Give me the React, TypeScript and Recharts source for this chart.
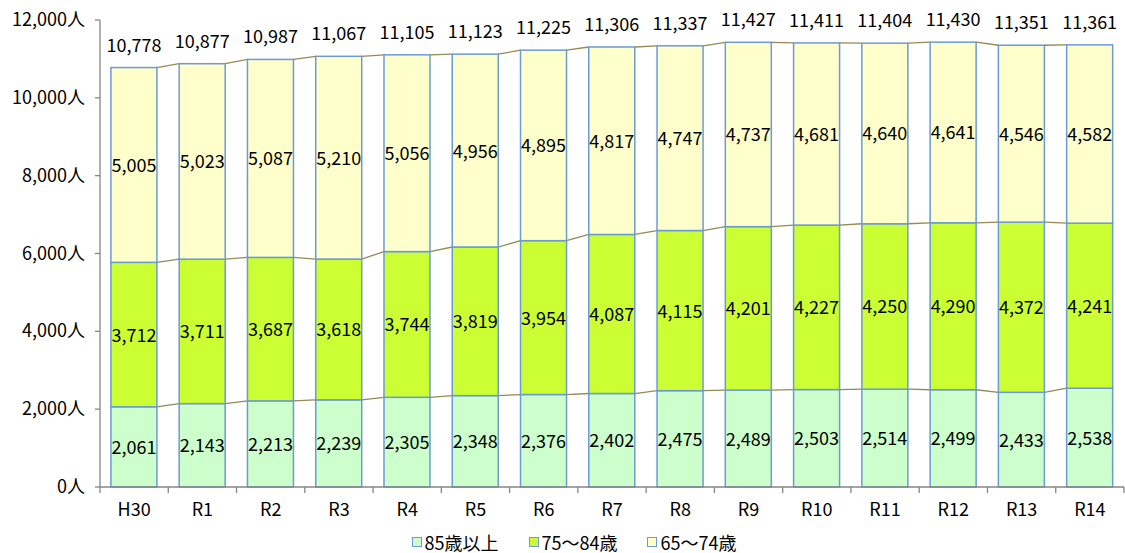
import React from 'react';
import { BarChart, Bar, XAxis, YAxis, Legend, LabelList } from 'recharts';

const categories = ['H30', 'R1', 'R2', 'R3', 'R4', 'R5', 'R6', 'R7', 'R8', 'R9', 'R10', 'R11', 'R12', 'R13', 'R14'];
const age85plus = [2061, 2143, 2213, 2239, 2305, 2348, 2376, 2402, 2475, 2489, 2503, 2514, 2499, 2433, 2538];
const age75to84 = [3712, 3711, 3687, 3618, 3744, 3819, 3954, 4087, 4115, 4201, 4227, 4250, 4290, 4372, 4241];
const age65to74 = [5005, 5023, 5087, 5210, 5056, 4956, 4895, 4817, 4747, 4737, 4681, 4640, 4641, 4546, 4582];
const totals = [10778, 10877, 10987, 11067, 11105, 11123, 11225, 11306, 11337, 11427, 11411, 11404, 11430, 11351, 11361];
const yTicks = [0, 2000, 4000, 6000, 8000, 10000, 12000];

const seriesNames = ['85歳以上', '75～84歳', '65～74歳'];
const seriesKeys = ['a85', 'a75', 'a65'];
const seriesValues = [age85plus, age75to84, age65to74];
const colors = ['#ccffcc', '#ccff33', '#ffffcc'];

const data = categories.map((c, i) => ({
  name: c,
  a85: age85plus[i],
  a75: age75to84[i],
  a65: age65to74[i],
  total: totals[i],
}));

const W = 1125;
const H = 553;
const M = { top: 20, right: 1, left: 10, bottom: 0 };
const YW = 90;
const PLOT_W = W - M.left - M.right - YW;
const BAND = PLOT_W / categories.length;
const FONT = '"Noto Sans CJK JP", "Noto Sans", sans-serif';
const STROKE = '#6c9bd4';
const LINE = '#948a54';

const cumulative = (k: number, i: number) => {
  let s = 0;
  for (let j = 0; j <= k; j++) s += seriesValues[j][i];
  return s;
};

const makeShape = (k: number) => (props: any) => {
  const { x, y, width, height, index, fill } = props;
  const value = seriesValues[k][index];
  const px = value ? height / value : 0;
  let line = null;
  if (index < categories.length - 1) {
    const yNext = y + (cumulative(k, index) - cumulative(k, index + 1)) * px;
    line = (
      <line x1={x + width} y1={y} x2={x + BAND} y2={yNext} stroke={LINE} strokeWidth={1.3} />
    );
  }
  return (
    <g>
      <rect x={x} y={y} width={width} height={height} fill={fill} stroke={STROKE} strokeWidth={1.5} />
      {line}
    </g>
  );
};

const fmt = (v: number) => v.toLocaleString('en-US');

const XTick = (props: any) => {
  const { x, y, payload, index } = props;
  const axisY = y - 10;
  return (
    <g>
      <line x1={x - BAND / 2} y1={axisY} x2={x - BAND / 2} y2={axisY + 6} stroke="#868686" strokeWidth={1.3} />
      {index === categories.length - 1 && (
        <line x1={x + BAND / 2} y1={axisY} x2={x + BAND / 2} y2={axisY + 6} stroke="#868686" strokeWidth={1.3} />
      )}
      <text x={x} y={axisY + 29} textAnchor="middle" fontSize={18} fill="#000" fontFamily={FONT}>
        {payload.value}
      </text>
    </g>
  );
};

const YTick = (props: any) => {
  const { x, y, payload } = props;
  return (
    <text x={x} y={y + 6} textAnchor="end" fontSize={18} fill="#000" fontFamily={FONT}>
      {fmt(payload.value) + '人'}
    </text>
  );
};

const TotalLabel = (props: any) => {
  const { x, y, width, index } = props;
  return (
    <text x={x + width / 2} y={y - 16} textAnchor="middle" fontSize={18} fill="#000" fontFamily={FONT}>
      {fmt(totals[index])}
    </text>
  );
};

const CenterLabel = (k: number) => (props: any) => {
  const { x, y, width, height, index } = props;
  return (
    <text x={x + width / 2} y={y + height / 2 + 7} textAnchor="middle" fontSize={18} fill="#000" fontFamily={FONT}>
      {fmt(seriesValues[k][index])}
    </text>
  );
};

const LegendContent = () => (
  <div style={{ display: 'flex', justifyContent: 'center', gap: 30, fontFamily: FONT, fontSize: 18, color: '#000', paddingLeft: 14, marginTop: 2 }}>
    {seriesNames.map((n, k) => (
      <div key={n} style={{ display: 'flex', alignItems: 'center' }}>
        <span style={{ display: 'inline-block', width: 8, height: 8, background: colors[k], border: `1.5px solid ${STROKE}`, marginRight: 3 }} />
        <span>{n}</span>
      </div>
    ))}
  </div>
);

export default function App() {
  return (
    <div style={{ position: 'absolute', left: 0, top: 0, width: W, height: H, background: '#fff' }}>
      <BarChart width={W} height={H} data={data} margin={M} barCategoryGap="16%">
        <XAxis
          dataKey="name"
          axisLine={{ stroke: '#868686', strokeWidth: 1.3 }}
          tickLine={false}
          tickSize={6}
          tickMargin={4}
          tick={<XTick />}
          height={40}
          interval={0}
        />
        <YAxis
          domain={[0, 12000]}
          ticks={yTicks}
          width={YW}
          axisLine={{ stroke: '#868686', strokeWidth: 1.3 }}
          tickLine={{ stroke: '#868686', strokeWidth: 1.3 }}
          tickSize={5}
          tickMargin={10}
          tick={<YTick />}
          interval={0}
        />
        <Legend verticalAlign="bottom" height={26} content={<LegendContent />} />
        {seriesKeys.map((key, k) => (
          <Bar
            key={key}
            dataKey={key}
            name={seriesNames[k]}
            stackId="s"
            fill={colors[k]}
            shape={makeShape(k)}
            isAnimationActive={false}
          >
            <LabelList dataKey={key} content={CenterLabel(k)} />
            {k === 2 && <LabelList dataKey={key} content={TotalLabel} />}
          </Bar>
        ))}
      </BarChart>
    </div>
  );
}
